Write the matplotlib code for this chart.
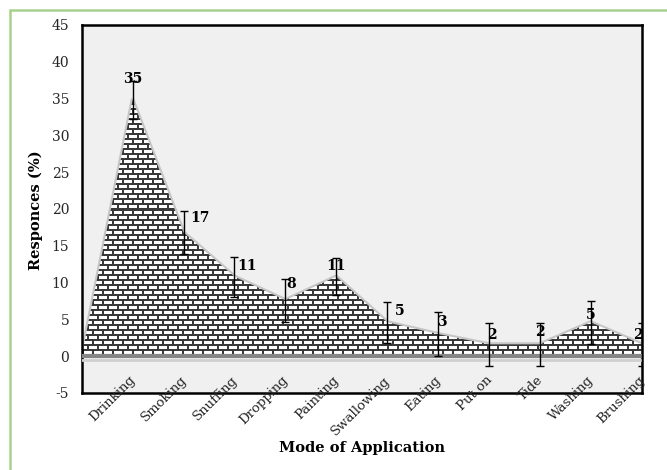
import numpy as np
import matplotlib
matplotlib.use("Agg")
import matplotlib.pyplot as plt
from matplotlib.patches import Polygon, Rectangle

plt.rcParams["axes.unicode_minus"] = False

categories = ["Drinking", "Smoking", "Snuffing", "Dropping", "Painting", "Swallowing",
              "Eating", "Put on", "Tide", "Washing", "Brushing"]
responses = [34.8, 16.8, 10.8, 7.6, 10.8, 4.6, 3.0, 1.6, 1.6, 4.6, 1.6]
errors = [2.6, 2.9, 2.7, 2.9, 2.5, 2.8, 3.0, 2.9, 2.9, 2.9, 2.9]
value_labels = [f"{v:.0f}" for v in responses]

# manual label nudges (points right, data units up)
label_dx = [0, 12, 9, 4, 0, 9, 3, 2, 0, 0, -3]
label_dy = [2.8, 1.9, 1.4, 2.2, 1.4, 1.5, 1.6, 1.3, 1.7, 1.0, 1.3]

serif = "DejaVu Serif"
W, H, DPI = 6.67, 4.70, 100

fig = plt.figure(figsize=(W, H), dpi=DPI)
ax = fig.add_axes([0.1225, 0.164, 0.8395, 0.783])
ax.set_facecolor("#f0f0f0")

x = np.arange(len(categories))
xs = np.concatenate([[x[0] - 1], x])
ys = np.concatenate([[0], responses])
ax.set_xlim(x[0] - 1, x[-1])
ax.set_ylim(-5, 45)

# soft shadow along the top edge
ax.plot(xs, ys, color="#7a7a7a", lw=3, alpha=0.35, zorder=1)

# brick texture clipped to the area
pw = int(round(W * DPI * 0.8395))
ph = int(round(H * DPI * 0.783))
yy, xx = np.mgrid[0:ph, 0:pw]
yb = (ph - 1 - yy) - int(round(ph * 5 / 50))  # rows counted up from the zero line
row = yb // 5
mortar_h = (yb % 5) < 2
shift = (row % 2) * 5
mortar_v = ((xx + shift) % 10) < 2
tex = np.where(mortar_h | mortar_v, 0.22, 1.0)
img = ax.imshow(tex, cmap="gray", vmin=0, vmax=1, extent=[x[0] - 1, x[-1], -5, 45],
                aspect="auto", interpolation="nearest", zorder=2)
poly = Polygon(np.column_stack([np.concatenate([xs, [xs[-1], xs[0]]]),
                                np.concatenate([ys, [0, 0]])]),
               closed=True, transform=ax.transData, facecolor="none", edgecolor="none")
ax.add_patch(poly)
img.set_clip_path(poly)

ax.axhline(-0.5, color="#d0d0d0", lw=2, zorder=3)
ax.axhline(0, color="#858585", lw=3, zorder=3)

ax.errorbar(x, responses, yerr=errors, fmt="none", ecolor="black",
            elinewidth=1, capsize=3, capthick=1, zorder=4)

for i, lab in enumerate(value_labels):
    ax.annotate(lab, (x[i], responses[i] + label_dy[i]), xytext=(label_dx[i], 0),
                textcoords="offset points", ha="center", va="center",
                fontsize=10, fontweight="bold", family=serif, zorder=5)

ax.set_xticks([])
ax.set_yticks(np.arange(-5, 46, 5))
ax.tick_params(axis="y", length=0, pad=9, labelsize=10, labelcolor="#262626")
for t in ax.get_yticklabels():
    t.set_family(serif)

for i, c in enumerate(categories):
    ax.text(x[i] + 0.02, -3.0, c, rotation=45, rotation_mode="anchor", ha="right", va="center",
            fontsize=9.5, family=serif, color="#262626", clip_on=False)

for s in ax.spines.values():
    s.set_color("black")
    s.set_linewidth(1.8)

fig.text(0.542, 1 - 448 / 470, "Mode of Application", ha="center", va="center",
         fontsize=10.5, fontweight="bold", family=serif)
fig.text(0.053, 1 - 210 / 470, "Responces (%)", ha="center", va="center", rotation=90,
         fontsize=10.5, fontweight="bold", family=serif)

fig.add_artist(Rectangle((10 / 667, -0.1), 1.2, 1.1 - 10 / 470, transform=fig.transFigure,
                         fill=False, edgecolor="#a9d18e", lw=1.8))

fig.savefig("out.png", dpi=DPI)
